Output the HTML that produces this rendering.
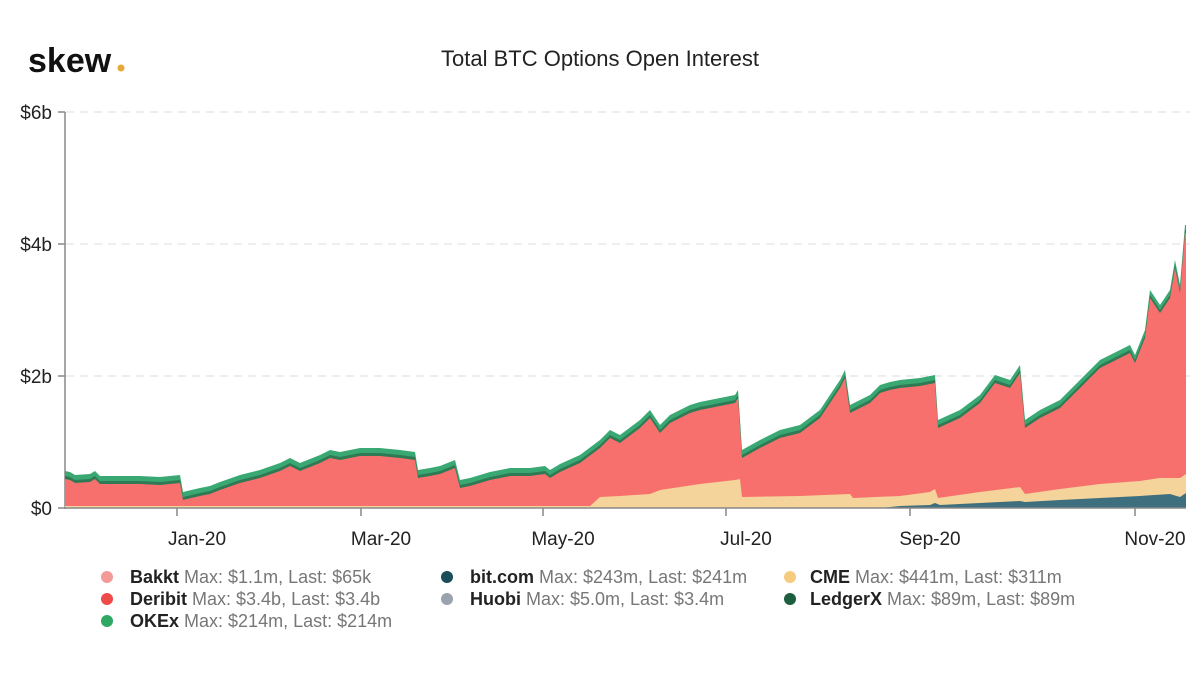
<!DOCTYPE html>
<html><head><meta charset="utf-8"><style>
body{margin:0;background:#fff;width:1200px;height:670px;overflow:hidden;font-family:"Liberation Sans",sans-serif}
</style></head><body>
<svg width="1200" height="670" xmlns="http://www.w3.org/2000/svg" font-family="Liberation Sans, sans-serif">
<text x="28" y="72" font-size="34" font-weight="bold" fill="#111">skew</text>
<circle cx="121" cy="68" r="3.5" fill="#e8a838"/>
<text x="600" y="66" font-size="22" text-anchor="middle" fill="#222">Total BTC Options Open Interest</text>
<g stroke="#ddd" stroke-dasharray="8,6" stroke-width="1">
<line x1="66" y1="112" x2="1190" y2="112"/><line x1="66" y1="244" x2="1190" y2="244"/><line x1="66" y1="376" x2="1190" y2="376"/>
</g>
<g font-size="19" fill="#222" text-anchor="end">
<text x="52" y="119">$6b</text><text x="52" y="251">$4b</text><text x="52" y="383">$2b</text><text x="52" y="515">$0</text>
</g>
<g stroke="#888" stroke-width="1.5">
<line x1="65" y1="112" x2="65" y2="509"/>
<line x1="58" y1="112" x2="65" y2="112"/><line x1="58" y1="244" x2="65" y2="244"/><line x1="58" y1="376" x2="65" y2="376"/><line x1="58" y1="508" x2="65" y2="508"/>
</g>
<defs><clipPath id="c"><rect x="65" y="100" width="1121" height="408"/></clipPath>
<polygon id="tot" points="65,471 70,472 75,475 90,474 95,471 100,476 120,476 140,476 160,477 180,475 183,492 200,488 210,486 220,482 240,475 260,470 280,463 290,458 300,463 320,455 330,450 340,452 360,448 380,448 400,450 415,452 418,470 430,468 440,466 455,460 460,480 470,478 490,472 510,468 530,468 545,466 550,470 560,464 580,455 600,440 610,430 620,435 640,420 650,410 660,425 670,415 690,405 700,402 720,398 735,395 738,390 742,450 760,440 780,430 800,425 820,410 840,380 845,370 850,405 870,395 880,385 890,382 900,380 920,378 935,375 938,420 960,410 980,395 995,375 1010,380 1020,365 1025,420 1040,410 1060,400 1080,380 1100,360 1120,350 1130,345 1135,355 1145,330 1150,290 1160,305 1170,290 1175,260 1180,285 1185,225 1186,225 1186,508 65,508"/></defs>
<g clip-path="url(#c)">
<use href="#tot" fill="#3aa872"/>
<use href="#tot" fill="#2f7a55" transform="translate(0,5)"/>
<use href="#tot" fill="#f8706d" transform="translate(0,8)"/>
<polygon fill="#f4d49a" points="65,506 590,506 600,497 620,496 650,494 660,490 700,484 735,480 740,479 742,497 800,496 850,494 853,498 900,496 930,492 935,489 938,498 980,492 1020,487 1025,494 1060,489 1100,484 1140,481 1160,478 1180,478 1186,474 1186,508 65,508"/>
<polygon fill="#3e6f7e" points="65,508 880,508 900,506 930,505 935,503 940,505 980,503 1020,501 1025,502 1060,500 1100,498 1140,496 1170,494 1180,497 1186,493 1186,508"/>
</g>
<line x1="65" y1="508" x2="1186" y2="508" stroke="#888" stroke-width="1.5"/>
<g stroke="#888" stroke-width="1.5">
<line x1="177" y1="508" x2="177" y2="516"/><line x1="361" y1="508" x2="361" y2="516"/><line x1="543" y1="508" x2="543" y2="516"/><line x1="726" y1="508" x2="726" y2="516"/><line x1="910" y1="508" x2="910" y2="516"/><line x1="1135" y1="508" x2="1135" y2="516"/>
</g>
<g font-size="19" fill="#222" text-anchor="middle">
<text x="197" y="545">Jan-20</text><text x="381" y="545">Mar-20</text><text x="563" y="545">May-20</text><text x="746" y="545">Jul-20</text><text x="930" y="545">Sep-20</text><text x="1155" y="545">Nov-20</text>
</g>
<g font-size="18">
<circle cx="107" cy="577" r="6" fill="#f49a97"/><text x="130" y="583"><tspan font-weight="bold" fill="#222">Bakkt</tspan><tspan fill="#777"> Max: $1.1m, Last: $65k</tspan></text>
<circle cx="107" cy="599" r="6" fill="#ef4a4a"/><text x="130" y="605"><tspan font-weight="bold" fill="#222">Deribit</tspan><tspan fill="#777"> Max: $3.4b, Last: $3.4b</tspan></text>
<circle cx="107" cy="621" r="6" fill="#2ea863"/><text x="130" y="627"><tspan font-weight="bold" fill="#222">OKEx</tspan><tspan fill="#777"> Max: $214m, Last: $214m</tspan></text>
<circle cx="447" cy="577" r="6" fill="#1b4c5a"/><text x="470" y="583"><tspan font-weight="bold" fill="#222">bit.com</tspan><tspan fill="#777"> Max: $243m, Last: $241m</tspan></text>
<circle cx="447" cy="599" r="6" fill="#9aa3ad"/><text x="470" y="605"><tspan font-weight="bold" fill="#222">Huobi</tspan><tspan fill="#777"> Max: $5.0m, Last: $3.4m</tspan></text>
<circle cx="790" cy="577" r="6" fill="#f5cb7e"/><text x="810" y="583"><tspan font-weight="bold" fill="#222">CME</tspan><tspan fill="#777"> Max: $441m, Last: $311m</tspan></text>
<circle cx="790" cy="599" r="6" fill="#1d5e3e"/><text x="810" y="605"><tspan font-weight="bold" fill="#222">LedgerX</tspan><tspan fill="#777"> Max: $89m, Last: $89m</tspan></text>
</g>
</svg>
</body></html>
